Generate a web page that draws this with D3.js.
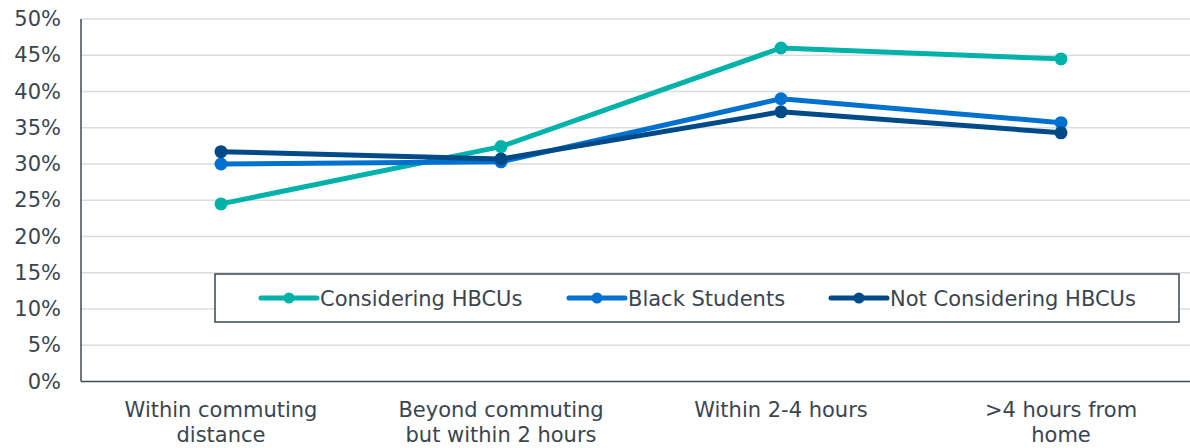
<!DOCTYPE html>
<html>
<head>
<meta charset="utf-8">
<script src="https://cdn.jsdelivr.net/npm/d3@7"></script>
<style>
  html, body { margin: 0; padding: 0; background: #fff; }
  svg { display: block; font-family: "DejaVu Sans", Verdana, sans-serif; }
</style>
</head>
<body>
<svg id="chart" width="1190" height="448"></svg>
<script>
const categories = [
  ["Within commuting", "distance"],
  ["Beyond commuting", "but within 2 hours"],
  ["Within 2-4 hours"],
  [">4 hours from", "home"]
];
const seriesNames = ["Considering HBCUs", "Black Students", "Not Considering HBCUs"];
const consideringHBCUs = [24.5, 32.4, 46.0, 44.5];
const blackStudents = [30.0, 30.3, 39.0, 35.7];
const notConsideringHBCUs = [31.7, 30.7, 37.2, 34.3];
const yTicks = [0, 5, 10, 15, 20, 25, 30, 35, 40, 45, 50];
const colors = ["#00b2a9", "#0071ce", "#004b87"];

(function () {
const seriesValues = [consideringHBCUs, blackStudents, notConsideringHBCUs];
const textColor = "#3b4550";
const fs = 21;

const svg = d3.select("#chart");
const mLeft = 81, mRight = 1201, mTop = 19, mBottom = 381.5;

const x = d3.scaleBand().domain(d3.range(categories.length)).range([mLeft, mRight]);
const y = d3.scaleLinear().domain([0, 50]).range([mBottom, mTop]);

// gridlines
svg.append("g").selectAll("line").data(yTicks.filter(d => d > 0)).join("line")
  .attr("x1", mLeft).attr("x2", mRight)
  .attr("y1", d => y(d)).attr("y2", d => y(d))
  .attr("stroke", "#d9dde2").attr("stroke-width", 1.5);

// y axis labels
const yAxis = d3.axisLeft(y).tickValues(yTicks).tickFormat(d => d + "%").tickSize(0).tickPadding(20);
const yg = svg.append("g").attr("transform", `translate(${mLeft},0)`).call(yAxis);
yg.select(".domain").remove();
yg.selectAll("text").attr("font-size", fs).attr("fill", textColor)
  .attr("font-family", "DejaVu Sans, Verdana, sans-serif");

// axes lines
svg.append("line").attr("x1", mLeft).attr("x2", mLeft).attr("y1", mTop).attr("y2", mBottom)
  .attr("stroke", "#404952").attr("stroke-width", 1.5);
svg.append("line").attr("x1", mLeft).attr("x2", mRight).attr("y1", mBottom).attr("y2", mBottom)
  .attr("stroke", "#404952").attr("stroke-width", 1.5);

// x labels
const xl = svg.append("g").selectAll("text").data(categories).join("text")
  .attr("x", (d, i) => x(i) + x.bandwidth() / 2)
  .attr("y", 417)
  .attr("text-anchor", "middle")
  .attr("font-size", fs)
  .attr("fill", textColor);
xl.each(function(d) {
  const tx = d3.select(this).attr("x");
  d3.select(this).selectAll("tspan").data(d).join("tspan")
    .attr("x", tx)
    .attr("dy", (t, j) => j === 0 ? 0 : 25)
    .text(t => t);
});

// lines
const line = d3.line().x((d, i) => x(i) + x.bandwidth() / 2).y(d => y(d));
seriesValues.forEach((vals, s) => {
  const g = svg.append("g");
  g.append("path").datum(vals).attr("d", line)
    .attr("fill", "none").attr("stroke", colors[s]).attr("stroke-width", 5)
    .attr("stroke-linejoin", "round");
  g.selectAll("circle").data(vals).join("circle")
    .attr("cx", (d, i) => x(i) + x.bandwidth() / 2)
    .attr("cy", d => y(d))
    .attr("r", 6.5)
    .attr("fill", colors[s]);
});

// legend
const lg = svg.append("g");
lg.append("rect").attr("x", 215).attr("y", 274).attr("width", 964).attr("height", 48)
  .attr("fill", "#fff").attr("stroke", "#3b4550").attr("stroke-width", 1.5);
const legendX = [261, 569, 831];
seriesNames.forEach((name, i) => {
  const gx = legendX[i];
  lg.append("line").attr("x1", gx).attr("x2", gx + 56).attr("y1", 298).attr("y2", 298)
    .attr("stroke", colors[i]).attr("stroke-width", 5).attr("stroke-linecap", "round");
  lg.append("circle").attr("cx", gx + 28).attr("cy", 298).attr("r", 5.5).attr("fill", colors[i]);
  lg.append("text").attr("x", gx + 59).attr("y", 305.5).attr("font-size", fs)
    .attr("fill", textColor).text(name);
});
})();
</script>
</body>
</html>
